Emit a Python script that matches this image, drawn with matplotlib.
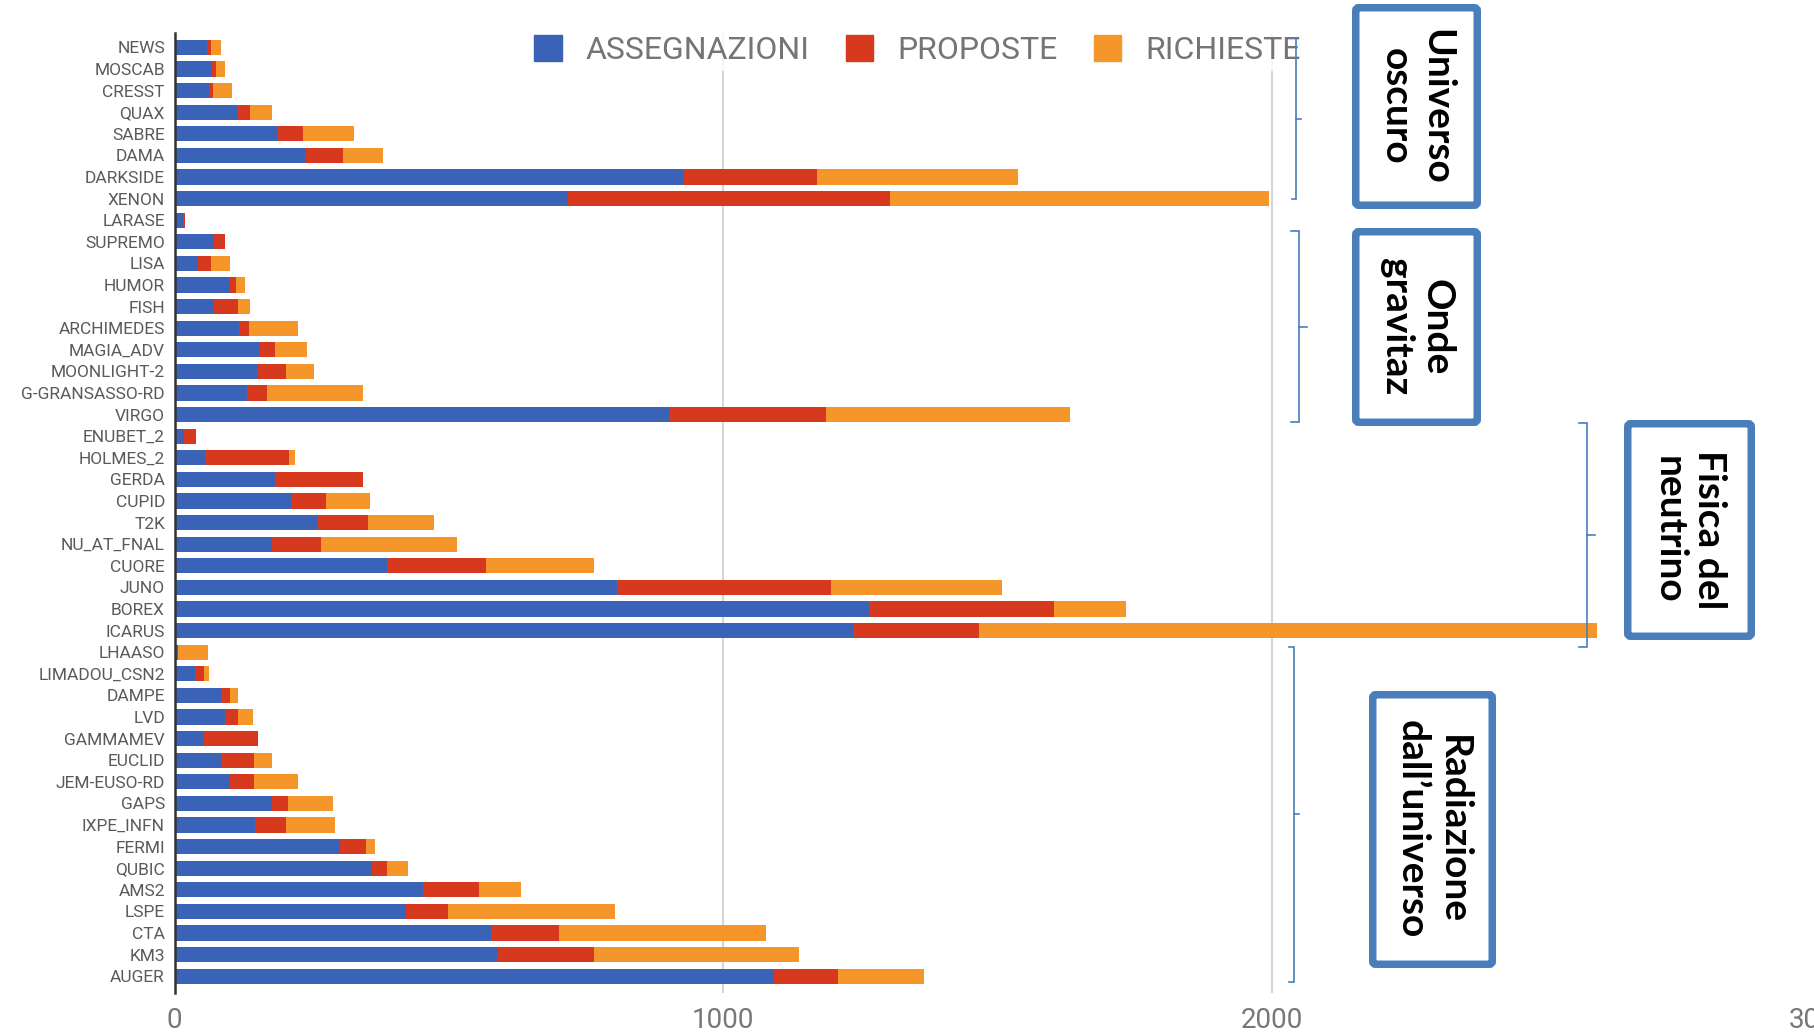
import numpy as np
import matplotlib
matplotlib.use('Agg')
import matplotlib.pyplot as plt
from matplotlib.patches import Patch, FancyBboxPatch

plt.rcParams['font.family'] = ['Roboto', 'DejaVu Sans']

# --- data ---
projects = ['NEWS', 'MOSCAB', 'CRESST', 'QUAX', 'SABRE', 'DAMA', 'DARKSIDE', 'XENON', 'LARASE',
            'SUPREMO', 'LISA', 'HUMOR', 'FISH', 'ARCHIMEDES', 'MAGIA_ADV', 'MOONLIGHT-2',
            'G-GRANSASSO-RD', 'VIRGO',
            'ENUBET_2', 'HOLMES_2', 'GERDA', 'CUPID', 'T2K', 'NU_AT_FNAL', 'CUORE', 'JUNO',
            'BOREX', 'ICARUS',
            'LHAASO', 'LIMADOU_CSN2', 'DAMPE', 'LVD', 'GAMMAMEV', 'EUCLID', 'JEM-EUSO-RD', 'GAPS',
            'IXPE_INFN', 'FERMI', 'QUBIC', 'AMS2', 'LSPE', 'CTA', 'KM3', 'AUGER']
assegnazioni = [59, 68, 62, 114, 186, 239, 928, 717, 15,
                71, 42, 101, 71, 118, 156, 151, 131, 901,
                17, 55, 182, 212, 259, 178, 388, 806, 1266, 1236,
                6, 37, 85, 92, 54, 84, 101, 178, 147, 302, 359, 453, 421, 576, 589, 1093]
proposte = [7, 7, 8, 24, 48, 67, 243, 587, 4,
            20, 24, 11, 45, 17, 26, 52, 38, 287,
            22, 153, 162, 63, 94, 89, 180, 390, 337, 230,
            0, 17, 16, 24, 97, 60, 43, 29, 56, 47, 29, 102, 78, 124, 175, 116]
richieste = [18, 16, 34, 39, 93, 73, 367, 692, 0,
             0, 34, 17, 22, 89, 59, 51, 175, 445,
             0, 12, 0, 82, 119, 248, 196, 312, 131, 1127,
             55, 8, 15, 27, 0, 33, 80, 81, 89, 17, 37, 76, 303, 378, 375, 158]
series_names = ['ASSEGNAZIONI', 'PROPOSTE', 'RICHIESTE']
x_ticks = [0, 1000, 2000, 3000]

groups = ['Universo\noscuro', 'Onde\ngravitaz', 'Fisica del\nneutrino', 'Radiazione\ndall\u2019universo']

BLUE = '#3a63b8'
RED = '#d6391d'
ORANGE = '#f4962a'
FRAME = '#4a7ebb'
GRAY = '#6b6b6b'

W, H = 1814, 1032
fig = plt.figure(figsize=(W / 100, H / 100), dpi=100)
ax = fig.add_axes([174.7 / W, 39 / H, (1820 - 174.7) / W, 960 / H])

y = np.arange(len(projects))
a = np.array(assegnazioni)
p = np.array(proposte)
r = np.array(richieste)
bh = 0.7
ax.barh(y, a, height=bh, color=BLUE, zorder=3, label=series_names[0])
ax.barh(y, p, left=a, height=bh, color=RED, zorder=3, label=series_names[1])
ax.barh(y, r, left=a + p, height=bh, color=ORANGE, zorder=3, label=series_names[2])

ax.set_xlim(0, 3000)
ax.set_ylim(43.78, -0.667)
ax.set_yticks(y, projects)
ax.set_xticks(x_ticks, [str(t) for t in x_ticks])
ax.tick_params(axis='y', length=0, pad=7, labelsize=12.5, labelcolor='#5a5a5a')
ax.tick_params(axis='x', length=0, pad=10, labelsize=20, labelcolor='#777777')
for s in ['top', 'right', 'bottom']:
    ax.spines[s].set_visible(False)
ax.spines['left'].set_color('#333333')
ax.spines['left'].set_linewidth(1.8)
ax.spines['left'].set_zorder(4)
ax.grid(axis='x', color='#d6d6d6', linewidth=1.5, zorder=0)
ax.grid(axis='y', visible=False)

handles = [Patch(color=c) for c in (BLUE, RED, ORANGE)]
leg = fig.legend(handles, series_names, loc='center left',
                 bbox_to_anchor=(528 / W, 1 - 50 / H), ncol=3, frameon=True,
                 fontsize=23, handlelength=0.85, handleheight=0.85,
                 handletextpad=0.75, columnspacing=1.15, borderpad=0.2,
                 borderaxespad=0)
leg.get_frame().set_facecolor('white')
leg.get_frame().set_edgecolor('none')
leg.get_frame().set_boxstyle('square', pad=0)
for t in leg.get_texts():
    t.set_color('#757575')

# overlay in pixel coordinates for the hand-drawn brackets and boxes
ov = fig.add_axes([0, 0, 1, 1], zorder=10)
ov.set_xlim(0, W)
ov.set_ylim(H, 0)
ov.axis('off')
ov.patch.set_alpha(0)

brackets = [  # x, top, bottom, middle, hook, tick
    (1295.7, 38, 199, 119, 4, 5),
    (1299, 231, 422, 327, 8, 8),
    (1586.7, 423, 647, 535, 8, 8),
    (1294, 647, 982, 814, 5, 5),
]
for bx, y0, y1, ym, hook, tick in brackets:
    ov.plot([bx - hook, bx, bx, bx - hook], [y0, y0, y1, y1], color=FRAME, lw=1.2,
            solid_joinstyle='miter')
    ov.plot([bx, bx + tick], [ym, ym], color=FRAME, lw=1.2)

boxes = [  # left, top, right, bottom (outer edges)
    (1352, 4, 1481, 209),
    (1352, 228, 1481, 426),
    (1624, 420, 1755, 640),
    (1369, 691, 1496, 968),
]
lw_px = 7.5
for (x0, y0, x1, y1), label in zip(boxes, groups):
    box = FancyBboxPatch((x0 + lw_px / 2, y0 + lw_px / 2), x1 - x0 - lw_px, y1 - y0 - lw_px,
                         boxstyle='round,pad=0,rounding_size=3', facecolor='white',
                         edgecolor=FRAME, linewidth=lw_px * 0.72)
    ov.add_patch(box)
    ov.text((x0 + x1) / 2, (y0 + y1) / 2, label, rotation=-90, ha='center', va='center',
            fontsize=28, fontweight='bold', family=['Lato', 'DejaVu Sans'],
            color='black', linespacing=1.2, multialignment='center')

fig.savefig('out.png', dpi=100)
